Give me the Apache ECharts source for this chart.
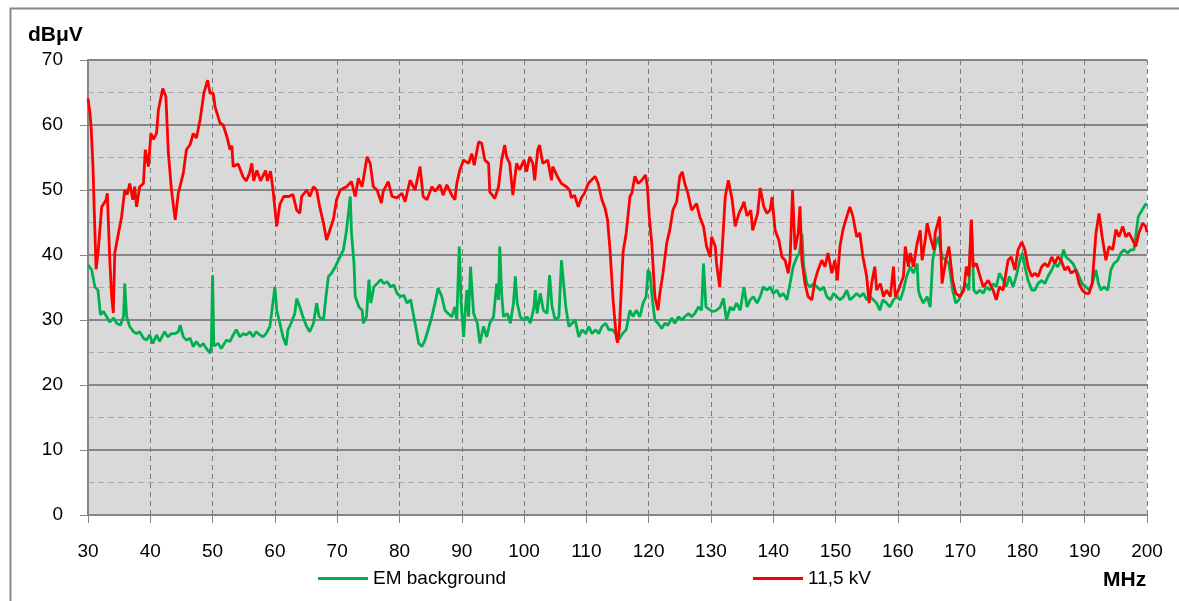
<!DOCTYPE html>
<html>
<head>
<meta charset="utf-8">
<script src="https://cdn.jsdelivr.net/npm/echarts@6/dist/echarts.min.js"></script>
<style>
html,body{margin:0;padding:0;background:#fff;}
#chart{width:1179px;height:601px;}
</style>
</head>
<body>
<div id="chart"></div>
<script>
// ---- Data ----
var xTicks = [30,40,50,60,70,80,90,100,110,120,130,140,150,160,170,180,190,200];
var yTicks = [0,10,20,30,40,50,60,70];
var seriesNames = ['EM background', '11,5 kV'];

var emFreq = [30.0,30.6,31.1,31.6,32.0,32.5,33.0,33.5,34.1,34.6,35.2,35.7,35.9,36.2,36.7,37.3,37.8,38.3,38.9,39.4,39.9,40.4,41.0,41.5,42.3,42.8,43.4,44.0,44.5,44.8,45.3,45.8,46.4,46.9,47.4,48.0,48.5,49.0,49.6,49.8,50.0,50.2,50.4,50.9,51.4,52.2,52.8,53.3,53.8,54.4,54.9,55.4,56.0,56.5,57.0,57.6,58.1,58.6,59.2,59.6,60.0,60.3,60.8,61.3,61.8,62.1,62.6,63.2,63.5,64.0,64.5,65.1,65.6,66.2,66.7,67.1,67.8,68.2,68.6,69.1,69.7,70.2,70.5,71.0,71.5,72.1,72.3,72.7,72.9,73.5,74.0,74.2,74.7,75.1,75.4,75.9,76.4,77.0,77.5,78.0,78.6,79.1,79.6,80.2,80.7,81.2,81.8,82.3,82.7,83.1,83.6,84.1,84.6,85.2,85.7,86.2,86.8,87.3,87.8,88.4,88.9,89.2,89.6,89.9,90.3,90.5,90.8,91.1,91.4,91.9,92.5,92.9,93.5,94.0,94.5,95.1,95.6,95.9,96.1,96.4,96.7,97.3,97.8,98.3,98.6,98.9,99.4,99.9,100.5,101.0,101.6,101.8,102.1,102.6,103.1,103.7,104.1,104.5,105.0,105.6,106.0,106.7,107.2,107.7,108.2,108.8,109.3,109.9,110.4,110.9,111.5,112.0,112.5,113.1,113.6,114.2,114.7,115.2,115.8,116.4,117.0,117.5,118.0,118.6,119.1,119.6,119.9,120.2,120.6,121.0,121.5,122.1,122.6,123.1,123.7,124.2,124.8,125.3,125.8,126.4,126.9,127.4,128.0,128.5,128.8,129.2,129.9,130.4,130.9,131.5,132.0,132.5,133.1,133.6,134.1,134.7,135.3,135.8,136.3,136.8,137.4,137.9,138.4,139.0,139.5,140.0,140.6,141.1,141.6,142.2,142.7,143.2,143.8,144.2,144.6,144.9,145.4,145.9,146.5,147.0,147.6,148.1,148.6,149.2,149.7,150.2,150.7,151.3,151.8,152.3,152.9,153.4,153.9,154.5,155.0,155.5,156.1,156.6,157.1,157.6,158.2,158.7,159.3,159.8,160.4,160.9,161.4,162.0,162.5,163.1,163.3,163.6,164.1,164.7,165.2,165.6,166.0,166.5,167.1,167.7,168.2,168.8,169.3,169.8,170.4,170.9,171.4,171.8,172.2,172.6,173.2,173.7,174.2,174.8,175.3,175.8,176.3,176.9,177.4,177.9,178.5,179.0,179.6,180.0,180.4,180.9,181.5,182.0,182.5,183.1,183.6,184.1,184.7,185.2,185.7,186.2,186.6,187.0,187.6,188.1,188.6,189.1,189.6,190.2,190.7,191.2,191.8,192.2,192.6,193.1,193.7,194.2,194.7,195.3,195.8,196.3,196.9,197.4,197.9,198.6,199.2,199.7,200.0];
var emLevel = [38.5,37.7,35.1,34.6,30.8,31.3,30.5,29.7,30.3,29.5,29.2,30.5,35.6,30.5,29.0,28.2,27.9,28.2,27.2,26.9,27.7,26.4,27.7,26.7,28.2,27.4,27.9,27.9,28.2,29.2,27.4,26.9,27.2,25.9,26.7,25.9,26.4,25.6,24.9,26.0,36.9,26.0,25.9,26.4,25.6,26.9,26.7,27.7,28.5,27.4,27.9,27.7,28.2,27.4,28.2,27.7,27.4,27.9,29.0,32.0,35.1,31.5,29.5,27.4,26.1,28.5,29.5,31.0,33.3,32.0,30.5,29.0,28.2,29.5,32.6,30.5,30.0,33.6,36.7,37.2,38.2,39.2,39.2,40.8,43.8,49.0,43.4,38.7,33.6,32.0,31.5,29.5,30.5,36.2,32.6,35.1,35.6,36.2,35.6,35.9,35.1,35.4,34.1,33.6,33.8,32.6,33.1,30.5,28.5,26.4,25.9,26.9,28.5,30.5,32.6,34.9,33.6,31.5,31.0,30.5,32.0,30.0,41.3,32.6,27.4,30.5,34.6,30.5,38.2,31.0,29.5,26.4,29.0,27.4,29.5,30.5,35.6,33.1,41.3,34.1,30.5,31.0,29.5,32.6,36.7,32.6,30.5,30.0,30.5,29.5,32.0,34.6,31.0,34.1,31.5,31.0,36.9,32.0,30.0,30.5,39.2,32.0,29.0,29.5,30.0,27.4,28.5,27.9,29.0,27.9,28.5,27.9,29.0,29.5,28.5,28.5,27.9,27.0,27.9,28.5,31.5,30.5,31.5,30.5,32.6,33.6,37.7,37.2,33.1,30.0,29.5,28.7,29.5,29.2,30.3,29.5,30.5,30.0,30.5,31.0,30.5,31.0,32.0,31.5,38.7,32.0,31.5,31.3,31.5,32.0,33.3,30.0,32.0,31.5,32.6,31.5,35.1,32.0,33.1,33.6,32.6,33.6,35.1,34.6,35.1,34.1,34.6,33.6,34.1,33.1,35.6,38.2,39.7,40.3,43.3,38.2,35.6,35.1,35.6,35.1,34.6,35.1,33.6,33.1,34.1,33.6,33.1,33.6,34.6,33.1,33.6,34.1,33.6,34.1,33.1,33.6,33.1,32.6,31.5,33.1,32.6,32.0,33.1,33.6,33.1,34.6,36.7,38.2,37.2,38.7,34.6,33.6,32.6,33.6,32.0,39.2,41.3,42.8,39.7,39.2,38.7,34.6,32.6,33.1,34.6,35.6,34.6,45.4,34.6,34.1,34.6,34.1,35.1,34.6,35.6,35.1,37.2,36.1,35.1,36.7,35.1,36.7,39.2,40.3,38.2,36.1,34.6,34.6,35.6,36.1,35.6,36.7,37.7,38.7,38.2,39.2,40.8,39.7,39.2,38.7,37.7,36.7,35.6,35.1,34.6,35.6,37.7,35.6,34.6,35.1,34.6,37.7,38.7,39.2,40.3,40.8,40.3,40.8,40.8,45.9,46.9,47.7,47.9];

var kvFreq = [30.0,30.3,30.5,30.8,31.0,31.3,31.65,32.2,32.6,32.9,33.1,33.5,33.8,34.06,34.3,34.9,35.4,35.9,36.3,36.7,37.2,37.5,37.8,38.3,38.9,39.2,39.7,40.1,40.5,41.0,41.3,42.0,42.5,42.9,43.4,44.0,44.5,45.3,45.8,46.4,46.9,47.4,48.0,48.6,49.2,49.6,50.1,50.4,51.2,51.7,52.3,52.8,53.1,53.3,54.1,54.9,55.4,55.9,56.3,56.6,57.1,57.7,58.5,58.8,59.3,59.7,60.3,60.8,61.4,62.2,62.9,63.5,64.0,64.3,65.1,65.6,66.2,66.7,67.2,67.8,68.3,68.6,69.4,69.9,70.5,71.5,72.3,72.9,73.4,74.0,74.8,75.3,75.8,76.4,77.1,77.4,78.2,78.8,79.6,80.4,80.9,81.7,82.5,83.3,83.8,84.4,85.2,85.7,86.5,87.0,87.6,88.4,88.9,89.2,89.7,90.3,91.1,91.6,92.0,92.7,93.2,93.7,94.3,94.5,95.3,95.9,96.4,96.9,97.2,97.7,98.2,98.8,99.3,100.0,100.4,100.9,101.4,101.7,102.2,102.5,103.0,103.8,104.4,104.6,105.5,106.0,106.8,107.3,107.6,108.1,108.7,109.2,109.7,110.3,110.8,111.4,111.9,112.5,113.0,113.4,113.8,114.3,114.8,115.0,115.3,115.9,116.4,117.0,117.3,117.8,118.3,118.9,119.5,119.8,120.1,120.5,121.0,121.5,121.8,122.3,122.9,123.4,123.9,124.5,125.0,125.4,125.8,126.3,126.9,127.7,128.2,128.8,129.3,129.9,130.1,130.7,130.9,131.4,131.8,132.3,132.8,133.4,133.9,134.5,135.0,135.3,135.8,136.4,136.7,137.5,137.9,138.5,139.0,139.5,139.8,140.3,140.9,141.4,141.9,142.4,142.7,143.1,143.5,144.0,144.3,144.6,145.1,145.6,146.2,146.7,147.2,147.8,148.3,148.8,149.4,149.9,150.3,150.7,151.2,151.8,152.3,152.8,153.4,153.9,154.4,155.0,155.4,155.8,156.3,156.6,157.2,157.7,158.2,158.8,159.3,159.6,160.1,160.9,161.2,161.7,162.0,162.5,163.1,163.6,163.9,164.4,164.7,165.2,165.8,166.0,166.7,167.1,167.7,168.2,168.8,169.3,170.0,170.6,171.0,171.4,171.8,172.1,172.6,173.2,173.7,174.5,175.3,175.8,176.3,176.9,177.7,178.2,178.8,179.3,179.9,180.4,180.9,181.5,182.0,182.5,183.1,183.6,184.1,184.7,185.2,185.7,186.2,186.8,187.3,187.8,188.6,189.1,189.6,190.2,190.7,191.2,191.8,192.3,192.8,193.4,193.9,194.5,195.0,195.5,196.1,196.6,197.1,197.7,198.2,198.7,199.3,199.8,200.0];
var kvLevel = [64.1,62.0,59.7,53.6,47.0,37.8,40.8,47.4,48.0,48.5,49.5,39.2,33.6,31.1,40.3,43.4,45.9,50.0,49.3,51.0,48.5,50.5,47.4,50.5,51.0,56.2,53.6,58.7,57.8,58.7,62.3,65.6,64.4,55.7,50.0,45.4,49.5,52.6,56.2,57.0,58.7,58.0,60.8,64.9,66.9,64.9,64.9,62.8,60.3,60.0,58.2,56.2,56.8,53.6,54.0,52.0,51.4,52.5,54.1,51.4,53.0,51.4,53.0,51.4,52.9,50.0,44.4,47.8,49.0,49.0,49.3,46.9,46.4,49.0,50.0,49.0,50.5,50.0,47.4,44.9,42.3,42.0,45.5,48.5,50.0,50.5,51.3,49.0,51.8,50.5,55.1,54.1,50.5,50.0,48.0,49.8,51.3,49.0,48.8,49.5,48.2,51.5,50.0,53.6,49.0,48.5,50.5,49.8,50.8,49.2,50.8,49.2,48.5,51.0,53.1,54.6,54.1,55.6,53.8,57.4,57.2,54.6,54.1,49.7,48.7,50.5,54.6,56.9,55.1,54.1,49.2,54.1,53.1,54.6,52.8,55.1,54.1,51.5,56.2,56.9,54.1,54.6,51.5,53.6,51.8,51.0,50.5,50.0,48.8,49.2,47.4,48.8,49.5,51.0,51.5,52.1,51.0,48.5,47.2,45.4,40.8,33.0,27.4,26.5,28.6,40.5,43.4,49.0,49.5,52.1,51.0,51.5,52.3,50.5,45.9,41.8,33.6,31.5,34.1,37.2,41.8,43.9,46.9,48.2,52.1,52.8,51.0,49.5,46.9,47.9,45.9,44.4,41.3,39.7,42.8,41.3,38.7,35.1,40.8,49.0,51.5,48.5,44.4,46.4,47.4,48.2,46.0,46.9,43.8,46.4,50.3,47.4,46.4,46.9,48.9,43.8,42.3,39.7,39.2,37.2,39.2,50.0,40.8,43.4,47.5,39.2,35.6,33.6,33.1,36.1,37.7,39.2,38.2,40.3,37.2,39.2,36.1,41.3,43.9,45.9,47.4,45.9,42.8,43.4,39.7,36.7,32.6,35.6,38.2,34.6,35.6,33.6,34.6,33.6,38.2,33.6,34.6,36.7,41.3,38.2,40.3,38.2,41.8,43.8,39.2,42.3,44.9,42.8,40.8,43.4,45.9,35.6,39.2,41.3,36.1,34.1,33.6,34.6,38.2,36.7,45.4,38.2,38.7,36.7,35.1,36.1,34.6,33.1,35.1,34.6,39.2,39.7,37.7,40.8,42.0,40.8,38.2,36.7,37.2,36.7,38.2,38.7,38.2,39.7,38.7,39.7,39.2,37.7,38.2,37.2,37.7,35.6,34.6,34.1,34.1,35.6,43.3,46.4,42.8,39.2,41.3,40.8,43.9,42.8,44.4,42.8,43.4,42.3,41.3,43.4,44.9,44.4,43.5];

function pairs(xs, ys){ var out=[]; for(var i=0;i<xs.length;i++){ out.push([xs[i], ys[i]]); } return out; }

var FONT = '"Liberation Sans", Arial, sans-serif';
var chart = echarts.init(document.getElementById('chart'), null, {renderer:'canvas'});
var option = {
  animation: false,
  backgroundColor: '#ffffff',
  graphic: [
    { type:'rect', left:8, top:6, shape:{x:0,y:0,width:1200,height:620}, style:{fill:'none', stroke:'#888888', lineWidth:2}, silent:true, z:-1 },
    { type:'text', left:28, top:25, style:{text:'dBμV', fill:'#000', font:'bold 21px ' + FONT} },
    { type:'text', left:1103, top:570, style:{text:'MHz', fill:'#000', font:'bold 21px ' + FONT} }
  ],
  grid: { left:88, right:32, top:60, bottom:86, show:true, backgroundColor:'#d9d9d9', borderWidth:0 },
  legend: [
    { data:[seriesNames[0]], left:313, top:564, icon:'rect', itemWidth:50, itemHeight:3, itemGap:5,
      textStyle:{fontFamily:FONT, fontSize:19, color:'#000'} },
    { data:[seriesNames[1]], left:748, top:564, icon:'rect', itemWidth:50, itemHeight:3, itemGap:5,
      textStyle:{fontFamily:FONT, fontSize:19, color:'#000'} }
  ],
  xAxis: {
    type:'value', min:xTicks[0], max:xTicks[xTicks.length-1], interval:10,
    axisLine:{show:true, onZero:false, lineStyle:{color:'#868686', width:2}},
    axisTick:{show:true, length:8, lineStyle:{color:'#868686', width:1}},
    axisLabel:{margin:27, fontFamily:FONT, fontSize:19, color:'#000'},
    splitLine:{show:true, lineStyle:{color:'#7a7a7a', type:[5,4], width:1}}
  },
  yAxis: {
    type:'value', min:yTicks[0], max:yTicks[yTicks.length-1], interval:10,
    axisLine:{show:true, lineStyle:{color:'#868686', width:2}},
    axisTick:{show:true, length:8, lineStyle:{color:'#868686', width:1}},
    axisLabel:{margin:25, fontFamily:FONT, fontSize:19, color:'#000'},
    splitLine:{show:true, lineStyle:{color:'#868686', width:2}},
    minorTick:{show:false, splitNumber:2},
    minorSplitLine:{show:true, lineStyle:{color:'#a8a8a8', type:[6,4], width:1}}
  },
  series: [
    { name:seriesNames[0], type:'line', data:pairs(emFreq, emLevel), showSymbol:false, symbol:'none',
      lineStyle:{color:'#00b050', width:2.8}, itemStyle:{color:'#00b050'}, z:2 },
    { name:seriesNames[1], type:'line', data:pairs(kvFreq, kvLevel), showSymbol:false, symbol:'none',
      lineStyle:{color:'#ff0000', width:2.8}, itemStyle:{color:'#ff0000'}, z:3 }
  ]
};
chart.setOption(option);
</script>
</body>
</html>
